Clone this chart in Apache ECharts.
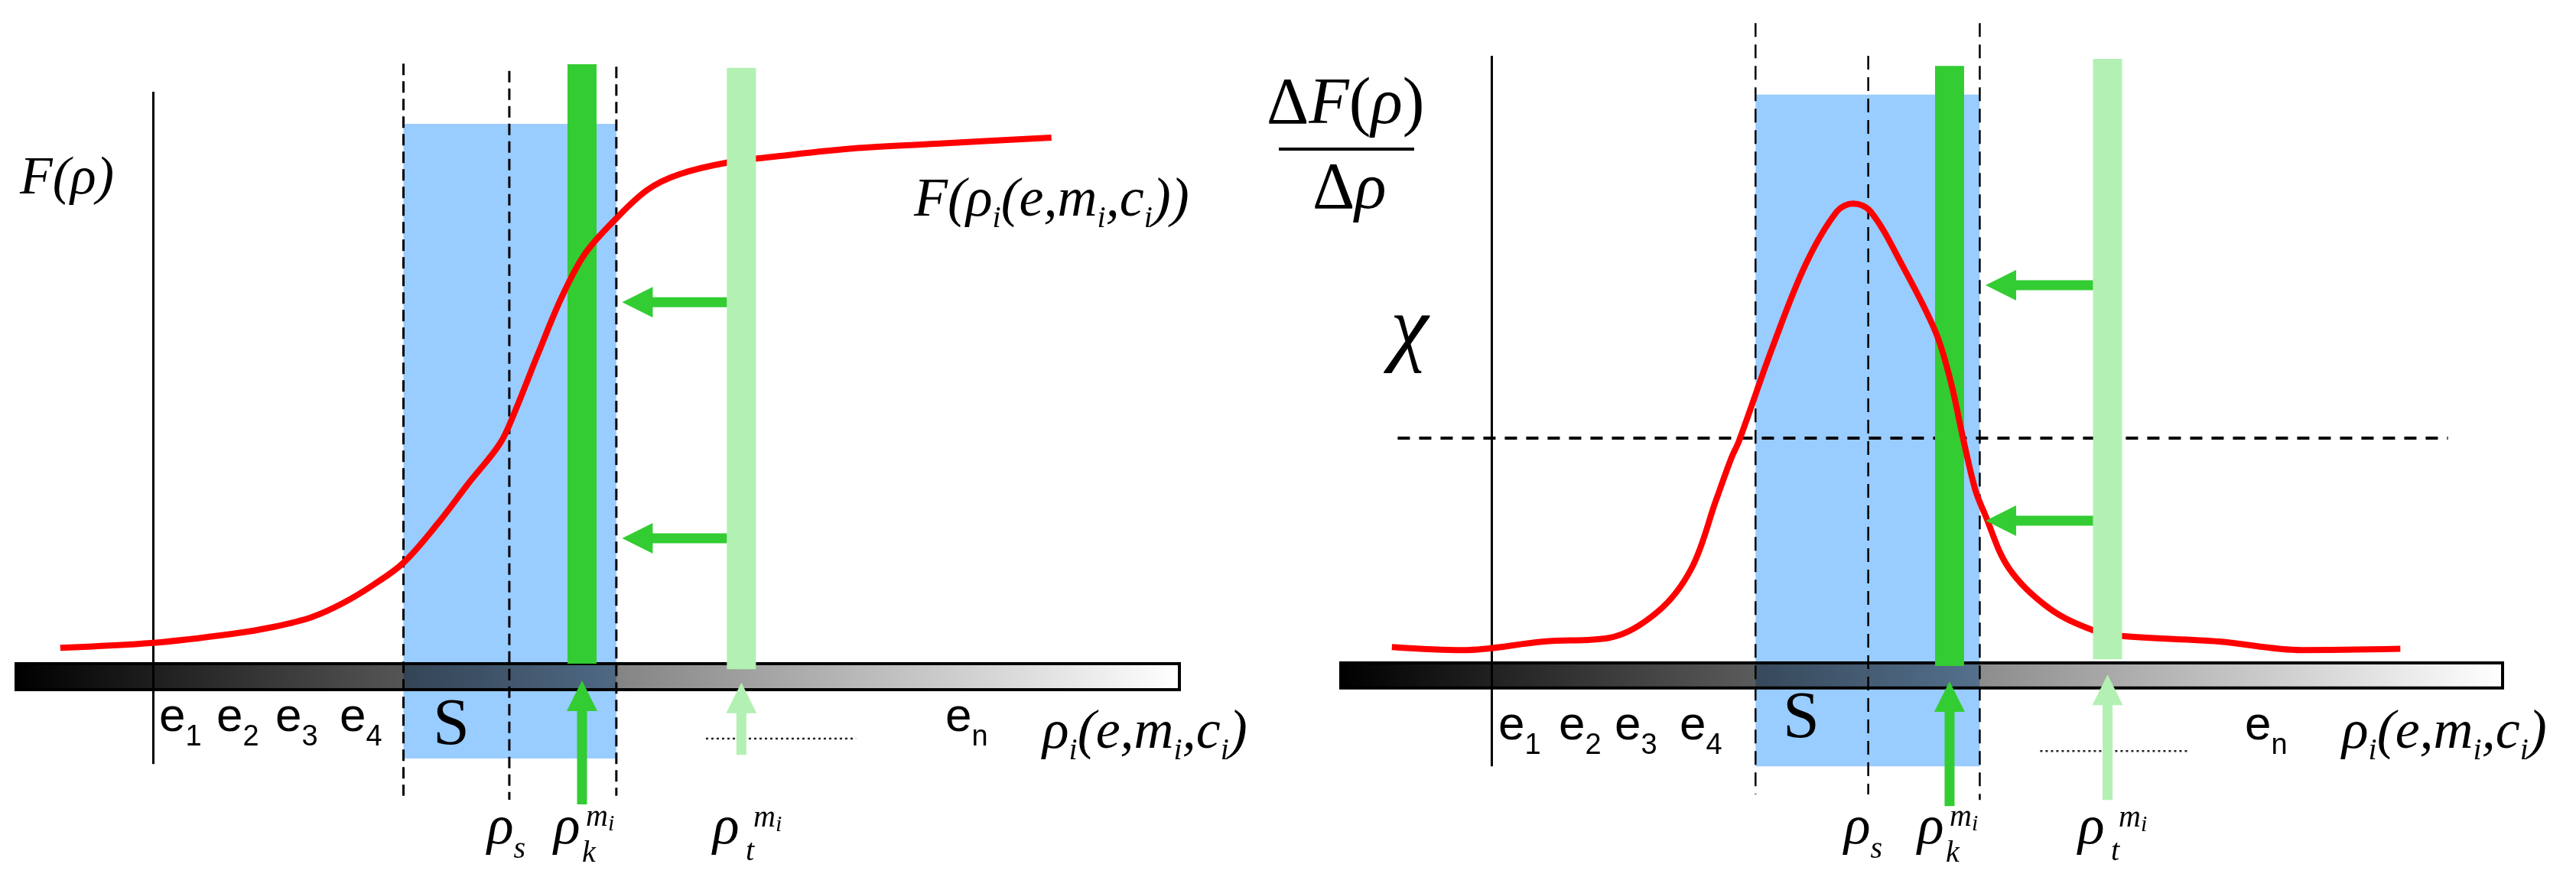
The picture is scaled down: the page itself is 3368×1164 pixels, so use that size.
<!DOCTYPE html>
<html>
<head>
<meta charset="utf-8">
<script src="https://cdn.jsdelivr.net/npm/echarts@6/dist/echarts.min.js"></script>
<style>
  html, body { margin: 0; padding: 0; background: #fff; }
  #chart { width: 3368px; height: 1164px; }
</style>
</head>
<body>
<div id="chart"></div>
<script>
// F(rho): cumulative curve, left panel (rho runs 0..100 along the grey bar)
var cdfRho = [3.8, 11.8, 18.7, 22.1, 25.4, 28.1, 30.8, 33.3, 36.2, 38.9, 41.6, 42.9, 44.9, 46.9, 48.9, 51.6, 54.3, 57.0, 61.1, 65.7, 72.4, 79.1, 89.0]
var cdfF = [0.026, 0.034, 0.049, 0.060, 0.076, 0.099, 0.130, 0.165, 0.228, 0.295, 0.360, 0.413, 0.508, 0.599, 0.670, 0.728, 0.775, 0.800, 0.819, 0.830, 0.843, 0.850, 0.860]
// dF/drho: density curve, right panel
var pdfRho = [4.4, 10.5, 17.5, 23.1, 27.3, 30.2, 32.3, 33.6, 34.3, 37.1, 40.0, 42.7, 44.1, 45.6, 48.3, 51.2, 52.5, 53.6, 54.6, 55.4, 57.5, 61.0, 64.8, 67.2, 75.6, 82.7, 91.2]
var pdfF = [0.026, 0.021, 0.035, 0.041, 0.084, 0.155, 0.266, 0.334, 0.364, 0.513, 0.651, 0.738, 0.751, 0.738, 0.651, 0.541, 0.460, 0.364, 0.284, 0.245, 0.155, 0.089, 0.053, 0.044, 0.035, 0.021, 0.023]

// markers per panel [left, right]
var sRange = [[33.3, 51.6], [35.7, 55.0]]
var rhoS = [42.4, 45.4]
var rhoK = [48.65, 52.4]
var rhoT = [62.35, 66.0]
var yAxisRho = [11.8, 13.0]
var arrowLevels = [[0.591, 0.205], [0.6175, 0.2325]]
var chi = 0.3675

var BLUE = '#99ccff', GREEN = '#33cc33', LIGHT = '#b3f0b3', RED = '#ff0000'

var chart = echarts.init(document.getElementById('chart'))

function rectSeries(gi, rows, fill, z, stroke) {
  return {
    type: 'custom', xAxisIndex: gi, yAxisIndex: gi, z: z, silent: true,
    data: rows,
    renderItem: function (params, api) {
      var a = api.coord([api.value(0), api.value(3)])
      var b = api.coord([api.value(1), api.value(2)])
      return {
        type: 'rect',
        shape: { x: a[0], y: a[1], width: b[0] - a[0], height: b[1] - a[1] },
        style: { fill: fill, stroke: stroke || null, lineWidth: stroke ? 4 : 0 }
      }
    }
  }
}

function segSeries(gi, rows, width, dash, z, color) {
  return {
    type: 'custom', xAxisIndex: gi, yAxisIndex: gi, z: z, silent: true,
    data: rows,
    renderItem: function (params, api) {
      var a = api.coord([api.value(0), api.value(1)])
      var b = api.coord([api.value(2), api.value(3)])
      return {
        type: 'line',
        shape: { x1: a[0], y1: a[1], x2: b[0], y2: b[1] },
        style: { stroke: color || '#000', lineWidth: width, lineDash: dash || null }
      }
    }
  }
}

function arrowSeries(gi, rows, color, z) {
  return {
    type: 'custom', xAxisIndex: gi, yAxisIndex: gi, z: z, silent: true,
    data: rows,
    renderItem: function (params, api) {
      var a = api.coord([api.value(0), api.value(1)])
      var b = api.coord([api.value(2), api.value(3)])
      var dx = b[0] - a[0], dy = b[1] - a[1]
      var len = Math.sqrt(dx * dx + dy * dy)
      dx /= len; dy /= len
      var nx = -dy, ny = dx
      var hl = 40, hw = 20, sw = 6.5
      var bx = b[0] - dx * hl, by = b[1] - dy * hl
      var pts = [
        [a[0] + nx * sw, a[1] + ny * sw],
        [bx + nx * sw, by + ny * sw],
        [bx + nx * hw, by + ny * hw],
        [b[0], b[1]],
        [bx - nx * hw, by - ny * hw],
        [bx - nx * sw, by - ny * sw],
        [a[0] - nx * sw, a[1] - ny * sw]
      ]
      return { type: 'polygon', shape: { points: pts }, style: { fill: color } }
    }
  }
}

function grey(t, tint) {
  return 'rgb(' + Math.round(tint[0] * t) + ',' + Math.round(tint[1] * t) + ',' + Math.round(tint[2] * t) + ')'
}

function panelSeries(gi, rho, vals, o) {
  var s = sRange[gi]
  var list = []
  // blue S band
  list.push(rectSeries(gi, [[s[0], s[1], o.sBottom, o.sTop]], BLUE, 1))
  // grey rho bar
  list.push(rectSeries(gi, [[0, 100, o.barBottom, 0]], new echarts.graphic.LinearGradient(0, 0, 1, 0, [
    { offset: 0, color: '#000' }, { offset: 1, color: '#fff' }]), 2))
  // part of the bar under the blue band (multiplied colour)
  list.push(rectSeries(gi, [[s[0], s[1], o.barBottom, 0]], new echarts.graphic.LinearGradient(0, 0, 1, 0, [
    { offset: 0, color: grey(s[0] / 100, [153, 204, 255]) },
    { offset: 1, color: grey(s[1] / 100, [153, 204, 255]) }]), 3))
  list.push(rectSeries(gi, [[0, 100, o.barBottom, 0]], 'rgba(0,0,0,0)', 3.5, '#000'))
  // vertical axis line
  list.push(segSeries(gi, [[yAxisRho[gi], o.axisTop, yAxisRho[gi], o.axisBottom]], 3, null, 4))
  // dashed markers
  list.push(segSeries(gi, [
    [s[0], o.dashTop[0], s[0], o.dashBottom[0]],
    [rhoS[gi], o.dashTop[1], rhoS[gi], o.dashBottom[1]],
    [s[1], o.dashTop[2], s[1], o.dashBottom[2]]
  ], o.dashWidth, o.dashPattern, 4))
  // dotted "......" under the bar
  list.push(segSeries(gi, [[o.dots[0], o.dots[2], o.dots[1], o.dots[2]]], 2.5, [3, 4], 4, '#222'))
  // dark green rho_k bar
  list.push(rectSeries(gi, [[rhoK[gi] - 1.25, rhoK[gi] + 1.25, o.kBottom, o.kTop]], GREEN, 5))
  // curve
  list.push({
    type: 'line', xAxisIndex: gi, yAxisIndex: gi, z: 6, silent: true,
    data: rho.map(function (r, i) { return [r, vals[i]] }),
    smooth: 0.35, symbol: 'none', clip: false,
    lineStyle: { color: RED, width: 8 }
  })
  // light green rho_t bar
  list.push(rectSeries(gi, [[rhoT[gi] - 1.25, rhoT[gi] + 1.25, o.tBottom, o.tTop]], LIGHT, 7))
  // arrows pointing from rho_t to rho_k
  var tip = s[1] + 0.5
  list.push(arrowSeries(gi, arrowLevels[gi].map(function (y) {
    return [rhoT[gi] - 1.25, y, tip, y]
  }), GREEN, 8))
  list.push(arrowSeries(gi, [[rhoK[gi], o.upK[0], rhoK[gi], o.upK[1]]], GREEN, 8))
  list.push(arrowSeries(gi, [[rhoT[gi], o.upT[0], rhoT[gi], o.upT[1]]], LIGHT, 8))
  return list
}

var series = [].concat(
  panelSeries(0, cdfRho, cdfF, {
    sBottom: -0.155, sTop: 0.8825, barBottom: -0.0425,
    axisTop: 0.935, axisBottom: -0.164,
    dashTop: [0.981, 0.969, 0.976], dashBottom: [-0.216, -0.2225, -0.216],
    dashWidth: 3, dashPattern: [15, 8],
    dots: [59.3, 72.2, -0.1225],
    kBottom: 0, kTop: 0.98, tBottom: -0.009, tTop: 0.974,
    upK: [-0.23, -0.0275], upT: [-0.149, -0.031]
  }),
  panelSeries(1, pdfRho, pdfF, {
    sBottom: -0.169, sTop: 0.929, barBottom: -0.041,
    axisTop: 0.9925, axisBottom: -0.169,
    dashTop: [1.046, 0.9925, 1.046], dashBottom: [-0.215, -0.215, -0.224],
    dashWidth: 2.5, dashPattern: [18, 10],
    dots: [60.2, 72.9, -0.144],
    kBottom: -0.005, kTop: 0.976, tBottom: 0.006, tTop: 0.9875,
    upK: [-0.234, -0.03], upT: [-0.224, -0.019]
  }),
  [segSeries(1, [[4.9, chi, 95.3, chi]], 4, [16, 12], 4.5)]
)

// ---- text labels (math-like, built from pieces) ----
var mctx = document.createElement('canvas').getContext('2d')
var FONTS = {
  it: function (s) { return 'italic ' + s + 'px "Liberation Serif"' },
  rm: function (s) { return s + 'px "Liberation Serif"' },
  sans: function (s) { return s + 'px "Liberation Sans"' }
}
function mathText(x, base, pieces) {
  var out = []
  pieces.forEach(function (p) {
    var font = FONTS[p[1]](p[2])
    out.push({
      type: 'text', x: x, y: base + (p[3] || 0) - 0.34 * p[2], z: 100,
      style: { text: p[0], font: font, fill: '#000', textAlign: 'left', textVerticalAlign: 'middle' }
    })
    mctx.font = font
    x += mctx.measureText(p[0]).width
  })
  return out
}
function rhoArgs(x, base) {
  return mathText(x, base, [['ρ', 'it', 72], ['i', 'it', 40, 12], ['(e,m', 'it', 72], ['i', 'it', 40, 12],
    [',c', 'it', 72], ['i', 'it', 40, 12], [')', 'it', 72]])
}
function eLabels(xs, base, subs) {
  var out = []
  xs.forEach(function (x, i) {
    out = out.concat(mathText(x, base, [['e', 'sans', 62], [subs[i], 'sans', 38, 17]]))
  })
  return out
}
function rhoMarks(xs, base) {
  return [].concat(
    mathText(xs[0], base, [['ρ', 'it', 72], ['s', 'it', 40, 16]]),
    mathText(xs[1], base, [['ρ', 'it', 72]]),
    mathText(xs[1] + 37, base + 21, [['k', 'it', 40]]),
    mathText(xs[1] + 42, base - 26, [['m', 'it', 40], ['i', 'it', 30, 5]]),
    mathText(xs[2], base, [['ρ', 'it', 72]]),
    mathText(xs[2] + 43, base + 19, [['t', 'it', 40]]),
    mathText(xs[2] + 53, base - 25, [['m', 'it', 40], ['i', 'it', 30, 5]])
  )
}

var texts = [].concat(
  mathText(26, 258, [['F(ρ)', 'it', 70]]),
  mathText(1195, 288, [['F(ρ', 'it', 72], ['i', 'it', 40, 12], ['(e,m', 'it', 72], ['i', 'it', 40, 12],
    [',c', 'it', 72], ['i', 'it', 40, 12], ['))', 'it', 72]]),
  eLabels([208, 283, 360, 444], 960, ['1', '2', '3', '4']),
  mathText(566, 980, [['S', 'rm', 86]]),
  eLabels([1236], 960, ['n']),
  rhoArgs(1363, 984),
  rhoMarks([637, 724, 932], 1109),

  mathText(1656, 168, [['Δ', 'rm', 86], ['F', 'it', 86], ['(', 'rm', 86], ['ρ', 'it', 86], [')', 'rm', 86]]),
  mathText(1716, 279, [['Δ', 'rm', 86], ['ρ', 'it', 86]]),
  mathText(1818, 473, [['χ', 'it', 112]]),
  eLabels([1959, 2038, 2111, 2196], 971, ['1', '2', '3', '4']),
  mathText(2331, 971, [['S', 'rm', 86]]),
  eLabels([2935], 971, ['n']),
  rhoArgs(3062, 984),
  rhoMarks([2411, 2507, 2717], 1109),
  [{ type: 'line', z: 100, shape: { x1: 1672, y1: 195, x2: 1849, y2: 195 }, style: { stroke: '#000', lineWidth: 4 } }]
)

var axisOpt = { type: 'value', min: 0, max: 100, show: false }
var yOpt = { type: 'value', min: 0, max: 1, show: false }

chart.setOption({
  animation: false,
  backgroundColor: '#fff',
  grid: [
    { left: 21, top: 68, width: 1521, height: 800 },
    { left: 1753, top: 67, width: 1519, height: 800 }
  ],
  xAxis: [Object.assign({ gridIndex: 0 }, axisOpt), Object.assign({ gridIndex: 1 }, axisOpt)],
  yAxis: [Object.assign({ gridIndex: 0 }, yOpt), Object.assign({ gridIndex: 1 }, yOpt)],
  series: series,
  graphic: texts
})
</script>
</body>
</html>
